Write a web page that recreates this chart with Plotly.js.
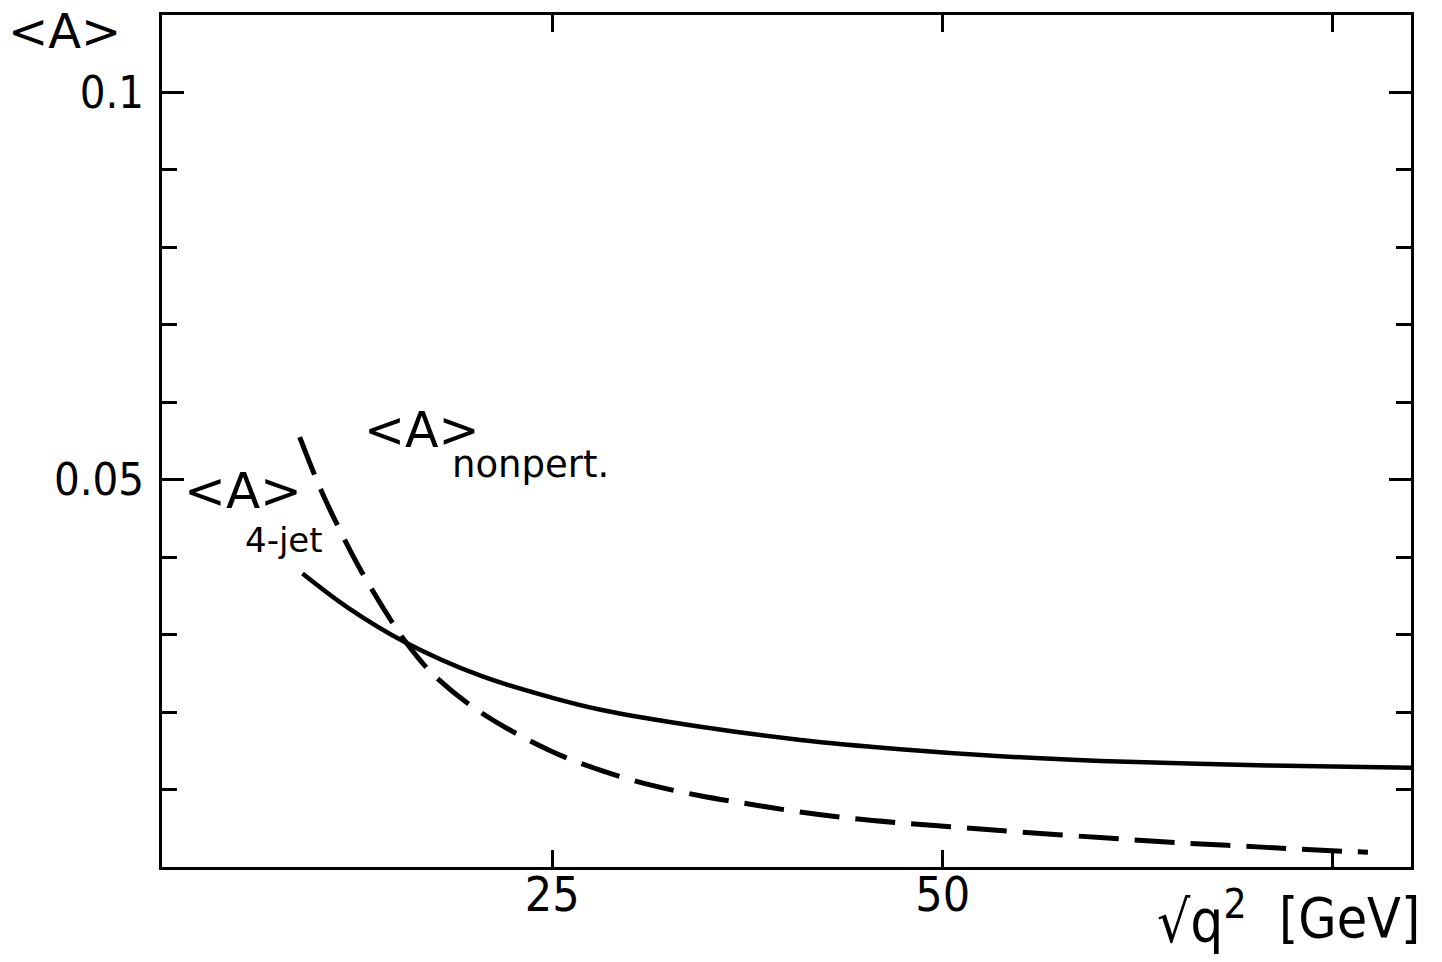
<!DOCTYPE html>
<html>
<head>
<meta charset="utf-8">
<script src="https://cdn.plot.ly/plotly-3.0.1.min.js"></script>
<style>html,body{margin:0;padding:0;background:#fff;}#chart{width:1442px;height:962px;}</style>
</head>
<body>
<div id="chart"></div>
<script>
// sqrt(q^2) in GeV
const solidX = [9.0, 11.9, 15.6, 20.4, 24.9, 28.1, 34.5, 40.9, 47.3, 53.7, 60.1, 70.8, 80];
const solidY = [0.0379, 0.0335, 0.0290, 0.0247, 0.0219, 0.0203, 0.0181, 0.0164, 0.0152, 0.0143, 0.0137, 0.0131, 0.0128];

const dashX = [8.82, 10.15, 11.32, 12.82, 14.74, 15.59, 17.30, 20.39, 24.87, 28.07, 31.27, 34.47, 37.68, 40.87, 44.07, 47.28, 50.48, 53.68, 60.08, 65.39, 69.24, 72.89, 77.24];
const dashY = [0.0555, 0.0488, 0.0438, 0.0380, 0.0316, 0.0291, 0.0250, 0.0200, 0.0150, 0.0125, 0.0106, 0.0092, 0.0081, 0.0071, 0.0063, 0.0057, 0.0052, 0.0047, 0.0038, 0.0031, 0.0027, 0.0023, 0.0019];

const xTickVals = [25, 50];
const xTickText = ['25', '50'];
const yTickVals = [0.05, 0.1];
const yTickText = ['0.05', '0.1'];

const narrow = 'Liberation Sans Narrow, DejaVu Sans Condensed, Arial Narrow, DejaVu Sans, sans-serif';
const sans = 'DejaVu Sans, sans-serif';

const traces = [
  {x: solidX, y: solidY, mode: 'lines', line: {color: '#000', width: 4.5, shape: 'spline', smoothing: 1}, hoverinfo: 'skip'},
  {x: dashX, y: dashY, mode: 'lines', line: {color: '#000', width: 5, dash: '40px,16px', shape: 'spline', smoothing: 1}, hoverinfo: 'skip'}
];

const W = 1442, H = 962, L = 162, R = 31, T = 15, B = 95;
const pw = W - L - R, ph = H - T - B;
const px = v => (v - L) / pw;
const py = v => (H - B - v) / ph;

function ann(text, x, y, size, family, xanchor) {
  return {text: text, xref: 'paper', yref: 'paper', x: px(x), y: py(y), xanchor: xanchor || 'left', yanchor: 'middle',
    showarrow: false, font: {family: family, size: size, color: '#000'}, borderpad: 0};
}

const layout = {
  width: W, height: H,
  margin: {l: L, r: R, t: T, b: B},
  paper_bgcolor: '#fff', plot_bgcolor: '#fff',
  showlegend: false,
  xaxis: {
    range: [0, 80], tickvals: xTickVals, ticktext: xTickText,
    ticks: 'inside', ticklen: 17, tickwidth: 3, tickcolor: '#000',
    minor: {dtick: 25, tick0: 0, ticks: 'inside', ticklen: 17, tickwidth: 3, tickcolor: '#000'},
    showline: true, linewidth: 3, linecolor: '#000', mirror: 'ticks',
    showgrid: false, zeroline: false, fixedrange: true,
    tickfont: {family: narrow, size: 48, color: '#000'}, ticklabelstandoff: -17
  },
  yaxis: {
    range: [0, 0.11], tickvals: yTickVals, ticktext: yTickText,
    ticks: 'inside', ticklen: 22, tickwidth: 3, tickcolor: '#000',
    minor: {dtick: 0.01, tick0: 0, ticks: 'inside', ticklen: 15, tickwidth: 3, tickcolor: '#000'},
    showline: true, linewidth: 3, linecolor: '#000', mirror: 'ticks',
    showgrid: false, zeroline: false, fixedrange: true,
    tickfont: {family: narrow, size: 45, color: '#000'}, ticklabelstandoff: 6
  },
  annotations: [
    ann('&lt;A&gt;', 7, 31, 48, sans),
    ann('&lt;A&gt;', 183, 491, 50, sans),
    ann('4-jet', 244, 540, 34, sans),
    ann('&lt;A&gt;', 363, 430, 49, sans),
    ann('nonpert.', 451, 465, 37, sans),
    ann('√q<sup>2</sup>', 1156, 918, 58, narrow),
    ann('[GeV]', 1421, 918, 55, narrow, 'right')
  ]
};

Plotly.newPlot('chart', traces, layout, {displayModeBar: false, staticPlot: true});
</script>
</body>
</html>
